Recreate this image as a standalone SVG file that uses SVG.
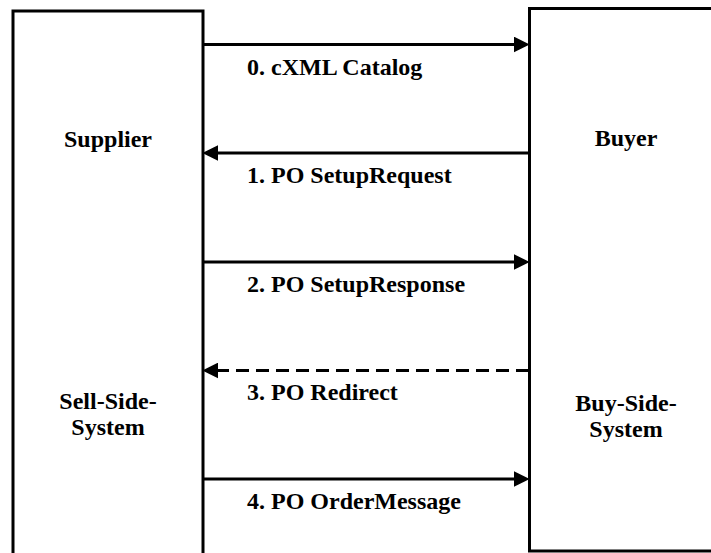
<svg xmlns="http://www.w3.org/2000/svg" width="711" height="553" viewBox="0 0 711 553">
<style>
.box{fill:#fff;stroke:#000;stroke-width:3}
.lbl{font-family:"Liberation Serif","Times New Roman",serif;font-weight:bold;font-size:24px;fill:#000}
.c{text-anchor:middle}
.conn{stroke:#000;stroke-width:3;fill:none;marker-end:url(#ah)}
.dash{stroke-dasharray:13 7}
</style>
<defs>
<marker id="ah" markerUnits="userSpaceOnUse" markerWidth="16" markerHeight="16" refX="5" refY="7.5" orient="auto" viewBox="0 0 15 15">
<path d="M0,0 L15,7.5 L0,15 z" fill="#000"/>
</marker>
</defs>
<rect width="711" height="553" fill="#fff"/>
<g id="supplier">
<rect class="box" x="13" y="11" width="190" height="560"/>
<text class="lbl c" x="108" y="147">Supplier</text>
<text class="lbl c" x="108" y="409">Sell-Side-</text>
<text class="lbl c" x="108" y="435">System</text>
</g>
<g id="buyer">
<rect class="box" x="529.5" y="8.5" width="220" height="542.5"/>
<text class="lbl c" x="626" y="146">Buyer</text>
<text class="lbl c" x="626" y="411">Buy-Side-</text>
<text class="lbl c" x="626" y="437">System</text>
</g>
<g id="connectors">
<line class="conn" x1="203" y1="44.5" x2="519" y2="44.5"/>
<line class="conn" x1="529" y1="153" x2="213" y2="153"/>
<line class="conn" x1="203" y1="262" x2="519" y2="262"/>
<line class="conn dash" x1="529" y1="370.5" x2="213" y2="370.5"/>
<line class="conn" x1="203" y1="479" x2="519" y2="479"/>
<text class="lbl" x="247" y="75">0. cXML Catalog</text>
<text class="lbl" x="247" y="183">1. PO SetupRequest</text>
<text class="lbl" x="247" y="292">2. PO SetupResponse</text>
<text class="lbl" x="247" y="400">3. PO Redirect</text>
<text class="lbl" x="247" y="509">4. PO OrderMessage</text>
</g>
</svg>
